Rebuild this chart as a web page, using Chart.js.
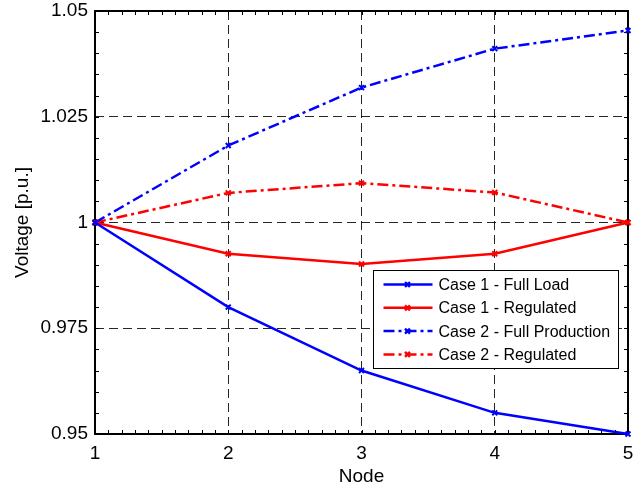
<!DOCTYPE html>
<html>
<head>
<meta charset="utf-8">
<title>Voltage profile</title>
<script src="https://cdn.jsdelivr.net/npm/chart.js@4.4.1/dist/chart.umd.min.js"></script>
<style>
  html, body { margin: 0; padding: 0; background: #fff; }
  #box { width: 634px; height: 491px; }
</style>
</head>
<body>
<div id="box"><canvas id="grafico"></canvas></div>
<script>
// nodes along the feeder and voltages in p.u.
const nodes = [1, 2, 3, 4, 5];
const case1FullLoad = [1.0, 0.980, 0.965, 0.955, 0.950];
const case1Regulated = [1.0, 0.9926, 0.9902, 0.9926, 1.0];
const case2FullProduction = [1.0, 1.0182, 1.0319, 1.0411, 1.0454];
const case2Regulated = [1.0, 1.0070, 1.0093, 1.0071, 1.0];

const seriesNames = [
  "Case 1 - Full Load",
  "Case 1 - Regulated",
  "Case 2 - Full Production",
  "Case 2 - Regulated",
];

const xTicks = [1, 2, 3, 4, 5];
const yTicks = [0.95, 0.975, 1, 1.025, 1.05];
const yTickLabels = ["0.95", "0.975", "1", "1.025", "1.05"];

const BLUE = "#0000ff";
const RED = "#ff0000";
const DASHDOT = [11, 4, 3, 4];
const FONT = '"Liberation Sans", Arial, Helvetica, sans-serif';

Chart.defaults.font.family = FONT;
Chart.defaults.color = "#000";

const toPoints = (values) => nodes.map((n, i) => ({ x: n, y: values[i] }));

const serie = function (label, values, color, dash) {
  return {
    label: label,
    data: toPoints(values),
    borderColor: color,
    backgroundColor: color,
    borderWidth: 2.5,
    borderDash: dash,
    pointStyle: "crossRot",
    pointRadius: 3.5,
    pointBorderWidth: 2,
    pointBorderColor: color,
    tension: 0,
    clip: false,
  };
};

// box around the axes with small inward ticks (MATLAB style)
const boxAndTicks = {
  id: "boxAndTicks",
  beforeDatasetsDraw(chart) {
    const { ctx, chartArea: a, scales } = chart;
    const x = scales.x;
    const y = scales.y;
    const len = 4;
    ctx.save();
    ctx.strokeStyle = "#000";
    ctx.lineWidth = 1;
    ctx.beginPath();
    for (let i = 0; i <= 40; i++) {
      const px = Math.round(x.getPixelForValue(1 + i / 10)) + 0.5;
      ctx.moveTo(px, a.bottom);
      ctx.lineTo(px, a.bottom - len);
      ctx.moveTo(px, a.top);
      ctx.lineTo(px, a.top + len);
    }
    for (let i = 0; i <= 20; i++) {
      const py = Math.round(y.getPixelForValue(0.95 + i * 0.005)) + 0.5;
      ctx.moveTo(a.left, py);
      ctx.lineTo(a.left + len, py);
      ctx.moveTo(a.right, py);
      ctx.lineTo(a.right - len, py);
    }
    ctx.stroke();
    ctx.lineWidth = 2;
    ctx.strokeRect(Math.round(a.left), Math.round(a.top), Math.round(a.right - a.left), Math.round(a.bottom - a.top));
    ctx.restore();
  },
};

// legend drawn inside the plot, lower right
const legendInside = {
  id: "legendInside",
  afterDraw(chart) {
    const { ctx, chartArea: a } = chart;
    const sets = chart.data.datasets;
    ctx.save();
    ctx.font = "16px " + FONT;
    let maxW = 0;
    sets.forEach((d) => { maxW = Math.max(maxW, ctx.measureText(d.label).width); });
    const rowH = 23.3;
    const w = Math.round(65 + maxW + 8);
    const h = 98;
    const left = Math.round(a.right - 10 - w) + 0.5;
    const top = Math.round(a.bottom - 66 - h) + 0.5;

    ctx.fillStyle = "#fff";
    ctx.fillRect(left, top, w, h);
    ctx.strokeStyle = "#000";
    ctx.lineWidth = 1;
    ctx.strokeRect(left, top, w, h);

    sets.forEach((d, i) => {
      const cy = top + 14 + i * rowH;
      ctx.strokeStyle = d.borderColor;
      ctx.lineWidth = 2.5;
      ctx.setLineDash(d.borderDash || []);
      ctx.beginPath();
      ctx.moveTo(left + 10, cy);
      ctx.lineTo(left + 59, cy);
      ctx.stroke();
      ctx.setLineDash([]);
      Chart.helpers.drawPoint(ctx, { pointStyle: "crossRot", radius: 3.5, borderWidth: 2 }, left + 34, cy);
      ctx.fillStyle = "#000";
      ctx.textBaseline = "middle";
      ctx.textAlign = "left";
      ctx.fillText(d.label, left + 65, cy + 1);
    });
    ctx.restore();
  },
};

const ctx = document.getElementById("grafico").getContext("2d");

const grafico = new Chart(ctx, {
  type: "line",
  data: {
    datasets: [
      serie(seriesNames[0], case1FullLoad, BLUE, []),
      serie(seriesNames[1], case1Regulated, RED, []),
      serie(seriesNames[2], case2FullProduction, BLUE, DASHDOT),
      serie(seriesNames[3], case2Regulated, RED, DASHDOT),
    ],
  },
  options: {
    responsive: true,
    maintainAspectRatio: false,
    animation: false,
    events: [],
    layout: { padding: { top: 11, right: 5, left: 0, bottom: 0 } },
    plugins: {
      legend: { display: false },
      tooltip: { enabled: false },
    },
    scales: {
      x: {
        type: "linear",
        min: 1,
        max: 5,
        afterBuildTicks: (scale) => { scale.ticks = xTicks.map((v) => ({ value: v })); },
        afterFit: (scale) => {
          scale.height = 57;
          scale.paddingLeft = 0;
          scale.paddingRight = 0;
        },
        ticks: {
          padding: 8,
          maxRotation: 0,
          font: { size: 19 },
          callback: (value) => String(value),
        },
        grid: {
          color: "rgba(0,0,0,0.85)",
          lineWidth: 1,
          drawTicks: false,
        },
        border: { display: false, dash: [9, 5] },
        title: {
          display: true,
          text: "Node",
          font: { size: 19 },
          padding: { top: 0, bottom: 3 },
        },
      },
      y: {
        type: "linear",
        min: 0.95,
        max: 1.05,
        afterBuildTicks: (scale) => { scale.ticks = yTicks.map((v) => ({ value: v })); },
        afterFit: (scale) => {
          scale.width = 95;
          scale.paddingTop = 0;
          scale.paddingBottom = 0;
        },
        ticks: {
          padding: 7,
          font: { size: 19 },
          callback: (value, index) => yTickLabels[index],
        },
        grid: {
          color: "rgba(0,0,0,0.85)",
          lineWidth: 1,
          drawTicks: false,
        },
        border: { display: false, dash: [9, 5] },
        title: {
          display: true,
          text: "Voltage [p.u.]",
          font: { size: 19 },
          padding: { top: 11, bottom: 0 },
        },
      },
    },
  },
  plugins: [boxAndTicks, legendInside],
});
</script>
</body>
</html>
